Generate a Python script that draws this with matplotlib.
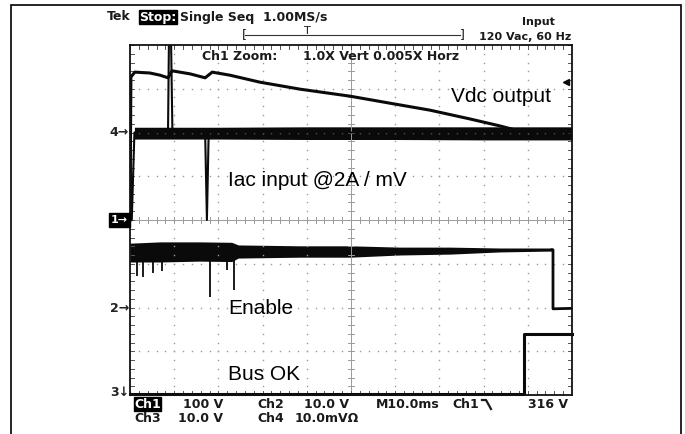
import numpy as np
import matplotlib
matplotlib.use("Agg")
import matplotlib.pyplot as plt
from matplotlib.patches import Rectangle
from matplotlib.lines import Line2D

W, H = 685, 434

vdc_x = [0.00, 0.02, 0.11, 0.45, 0.68, 0.86, 0.95, 1.36, 1.70, 1.86, 2.26, 2.94,
         3.85, 4.98, 5.88, 6.79, 7.69, 8.37, 8.71, 10.0]
vdc_y = [4.00, 7.27, 7.38, 7.36, 7.31, 7.25, 7.41, 7.34, 7.25, 7.38, 7.31, 7.15,
         6.99, 6.83, 6.67, 6.51, 6.31, 6.15, 6.06, 6.03]

iac_x = [0.00, 0.04, 0.10, 0.86, 0.88, 0.93, 0.96, 1.70, 1.74, 1.78, 10.0]
iac_y = [6.00, 4.00, 6.00, 6.00, 8.00, 8.00, 6.00, 6.00, 4.00, 6.00, 6.00]
# noise band of the current trace (upper / lower envelope)
iac_band_x = [0.10, 2.0, 4.0, 6.0, 8.0, 10.0]
iac_band_hi = [6.12, 6.12, 6.13, 6.13, 6.13, 6.13]
iac_band_lo = [5.85, 5.85, 5.84, 5.84, 5.83, 5.83]

en_x = [0.00, 0.68, 1.58, 2.30, 2.45, 3.85, 4.98, 6.11, 7.24, 8.37, 9.55]
en_hi = [3.47, 3.50, 3.50, 3.49, 3.43, 3.41, 3.41, 3.38, 3.38, 3.36, 3.36]
en_lo = [3.04, 3.04, 3.06, 3.05, 3.13, 3.15, 3.15, 3.20, 3.22, 3.27, 3.29]
en_spike_x = [0.16, 0.29, 0.52, 0.72, 1.81, 2.19, 2.35]
en_spike_y = [2.71, 2.69, 2.80, 2.83, 2.23, 2.86, 2.40]
en_tail_x = [9.55, 9.57, 9.57, 10.0]
en_tail_y = [3.32, 3.32, 1.97, 1.98]

bus_x = [0.00, 8.91, 8.91, 10.0]
bus_y = [0.02, 0.02, 1.39, 1.39]

labels = ["Vdc output", "Iac input @2A / mV", "Enable", "Bus OK"]


def px(x, y):
    return x / W, 1 - y / H


fig = plt.figure(figsize=(W / 100, H / 100), dpi=100, facecolor="white")
fig.add_artist(Rectangle(px(11, 440), 670 / W, 435 / H, transform=fig.transFigure,
                         fill=False, lw=1.2, ec="black"))

x0, y0 = px(130, 395)
ax = fig.add_axes([x0, y0, 442 / W, 350 / H])
ax.set_xlim(0, 10)
ax.set_ylim(0, 8)
ax.set_xticks([])
ax.set_yticks([])
for s in ax.spines.values():
    s.set_linewidth(1.3)
    s.set_color("#111111")

# graticule
grey = "#9a9a9a"
fine = np.arange(0, 10.01, 0.2)
fine_y = np.arange(0, 8.01, 0.2)
for gx in range(1, 10):
    if gx == 5:
        continue
    ax.plot([gx] * len(fine_y), fine_y, ls="none", marker="s", ms=1.0, mew=0, color=grey)
for gy in range(1, 8):
    if gy == 4:
        continue
    ax.plot(fine, [gy] * len(fine), ls="none", marker="s", ms=1.0, mew=0, color=grey)
ax.axvline(5, color=grey, lw=0.7)
ax.axhline(4, color=grey, lw=0.7)
tl = 0.07
for f in fine:
    ax.plot([f, f], [4 - tl, 4 + tl], color=grey, lw=0.7)
    ax.plot([f, f], [0, tl * 1.2], color="#555555", lw=0.7)
    ax.plot([f, f], [8, 8 - tl * 1.2], color="#555555", lw=0.7)
for f in fine_y:
    ax.plot([5 - tl, 5 + tl], [f, f], color=grey, lw=0.7)
    ax.plot([0, tl * 1.2], [f, f], color="#555555", lw=0.7)
    ax.plot([10, 10 - tl * 1.2], [f, f], color="#555555", lw=0.7)

# traces
k = "#0a0a0a"
ax.plot(vdc_x, vdc_y, color=k, lw=2.2, solid_joinstyle="round")
ax.plot(iac_x, iac_y, color=k, lw=1.5)
ax.fill_between(iac_band_x, iac_band_lo, iac_band_hi, color=k, lw=0)
ax.fill_between(en_x, en_lo, en_hi, color=k, lw=0)
ax.vlines(en_spike_x, en_spike_y, 3.1, color=k, lw=1.3)
ax.plot(en_tail_x, en_tail_y, color=k, lw=2.0)
ax.plot(bus_x, bus_y, color=k, lw=2.2, clip_on=False)
ax.plot([9.87], [7.15], marker="<", ms=5, color=k, clip_on=False)

# annotations
lab_pos = [(451, 96), (228, 180), (228, 309), (228, 375)]
for t, (lx, ly) in zip(labels, lab_pos):
    fig.text(*px(lx, ly), t, family="Liberation Sans", fontsize=15, va="center", ha="left")

# channel markers on the left
mk = dict(family="DejaVu Sans", fontsize=9, fontweight="bold", va="center", ha="right", color="#222222")
fig.text(*px(129, 132), "4\u2192", **mk)
fig.text(*px(129, 308), "2\u2192", **mk)
fig.text(*px(129, 392), "3\u2193", **mk)
fig.text(*px(128, 220), "1\u2192", color="white", fontsize=8, fontweight="bold",
         va="center", ha="right", family="DejaVu Sans",
         bbox=dict(boxstyle="square,pad=0.15", fc="black", ec="black"))

# header
hd = dict(family="DejaVu Sans", fontweight="bold", fontsize=9, va="center", color="#1a1a1a")
fig.text(*px(107, 17), "Tek", **hd)
fig.text(*px(139, 17), "Stop:", **{**hd, "color": "white"},
         bbox=dict(boxstyle="square,pad=0.03", fc="black", ec="black"))
fig.text(*px(180, 17), "Single Seq  1.00MS/s", **hd)
fig.text(*px(202, 57), "Ch1 Zoom:", **hd)
fig.text(*px(303, 57), "1.0X Vert 0.005X Horz", **hd)
fig.text(*px(538, 22), "Input", **{**hd, "ha": "center", "fontsize": 8})
fig.text(*px(571, 37), "120 Vac, 60 Hz", **{**hd, "ha": "right", "fontsize": 8})
fig.add_artist(Line2D([245 / W, 460 / W], [1 - 35 / H] * 2, transform=fig.transFigure,
                      color="#333333", lw=0.8))
fig.text(*px(244, 35), "[", **{**hd, "ha": "center", "fontweight": "normal"})
fig.text(*px(462, 35), "]", **{**hd, "ha": "center", "fontweight": "normal"})
fig.text(*px(307, 31), "T", **{**hd, "ha": "center", "fontweight": "normal", "fontsize": 8})

# footer
ft = dict(family="DejaVu Sans", fontweight="bold", fontsize=9, va="center", color="#1a1a1a")
fig.text(*px(134, 404), "Ch1", **{**ft, "color": "white"},
         bbox=dict(boxstyle="square,pad=0.02", fc="black", ec="black"))
fig.text(*px(223, 404), "100 V", **{**ft, "ha": "right"})
fig.text(*px(257, 404), "Ch2", **ft)
fig.text(*px(349, 404), "10.0 V", **{**ft, "ha": "right"})
fig.text(*px(376, 404), "M10.0ms", **ft)
fig.text(*px(452, 404), "Ch1", **ft)
fig.add_artist(Line2D([482 / W, 486 / W, 491 / W], [1 - 400 / H, 1 - 400 / H, 1 - 409 / H],
                      transform=fig.transFigure, color="#1a1a1a", lw=1.6))
fig.text(*px(568, 404), "316 V", **{**ft, "ha": "right"})
fig.text(*px(134, 418), "Ch3", **ft)
fig.text(*px(223, 418), "10.0 V", **{**ft, "ha": "right"})
fig.text(*px(257, 418), "Ch4", **ft)
fig.text(*px(295, 418), "10.0mV\u03a9", **ft)

fig.savefig("out.png", dpi=100, facecolor="white")
